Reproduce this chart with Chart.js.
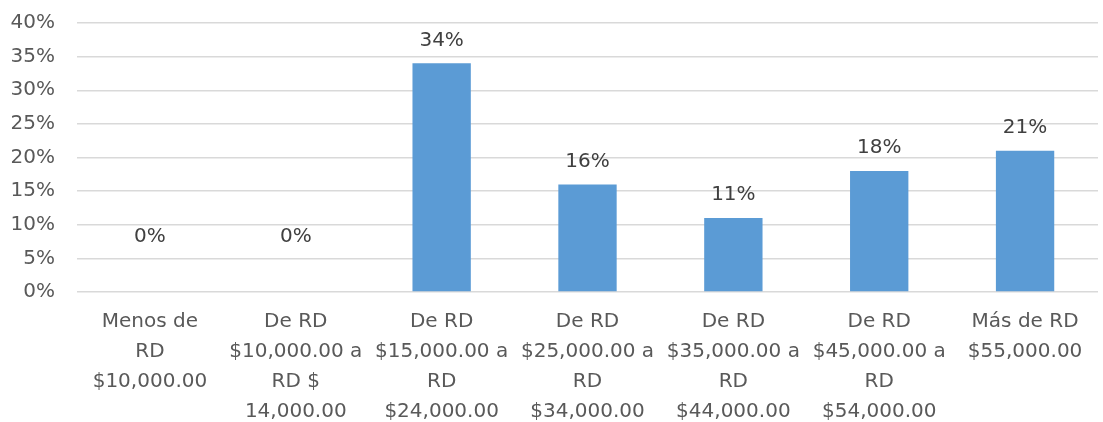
<!DOCTYPE html>
<html><head><meta charset="utf-8">
<script src="https://cdn.jsdelivr.net/npm/chart.js@4/dist/chart.umd.min.js"></script>
<style>html,body{margin:0;padding:0;background:#fff}#wrap{width:1103px;height:422px}</style>
</head><body><div id="wrap"><canvas id="c" width="1103" height="422"></canvas></div>
<script>
const categories = [
  ["Menos de", "RD", "$10,000.00"],
  ["De RD", "$10,000.00 a", "RD $", "14,000.00"],
  ["De RD", "$15,000.00 a", "RD", "$24,000.00"],
  ["De RD", "$25,000.00 a", "RD", "$34,000.00"],
  ["De RD", "$35,000.00 a", "RD", "$44,000.00"],
  ["De RD", "$45,000.00 a", "RD", "$54,000.00"],
  ["Más de RD", "$55,000.00"]
];
const values = [0, 0, 34, 16, 11, 18, 21];
const yTicks = [0, 5, 10, 15, 20, 25, 30, 35, 40];
const FONT = "'DejaVu Sans', sans-serif";

const labelPlugin = {
  id: 'barLabels',
  afterDatasetsDraw(chart) {
    const ctx = chart.ctx;
    const meta = chart.getDatasetMeta(0);
    const ys = chart.scales.y;
    ctx.save();
    ctx.font = "20px " + FONT;
    ctx.fillStyle = '#404040';
    ctx.textAlign = 'center';
    ctx.textBaseline = 'middle';
    meta.data.forEach((bar, i) => {
      const v = values[i];
      const y = v === 0 ? ys.getPixelForValue(8.2) : bar.y - 23;
      ctx.fillText(v + '%', bar.x, y);
    });
    ctx.restore();
  }
};

new Chart(document.getElementById('c'), {
  type: 'bar',
  data: { labels: categories, datasets: [{ data: values, backgroundColor: '#5B9BD5', categoryPercentage: 1, barPercentage: 0.4 }] },
  options: {
    responsive: false, animation: false,
    layout: { padding: { top: 23, right: 5, left: 0, bottom: 0 } },
    plugins: { legend: { display: false }, tooltip: { enabled: false } },
    scales: {
      x: {
        grid: { display: false, drawTicks: false },
        border: { display: false },
        ticks: { color: '#595959', font: { family: FONT, size: 20, lineHeight: 1.5 }, padding: 15, maxRotation: 0, autoSkip: false },
        afterFit(s) { s.height = 130; s.paddingLeft = 0; s.paddingRight = 0; }
      },
      y: {
        min: 0, max: 40,
        afterBuildTicks(s) { s.ticks = yTicks.map(v => ({ value: v })); },
        grid: { color: '#D9D9D9', lineWidth: 1.5, drawTicks: false },
        border: { display: false },
        ticks: { color: '#595959', font: { family: FONT, size: 20 }, padding: 22, callback: v => v + '%' },
        afterFit(s) { s.width = 77; s.paddingTop = 0; s.paddingBottom = 0; }
      }
    }
  },
  plugins: [labelPlugin]
});
</script></body></html>
